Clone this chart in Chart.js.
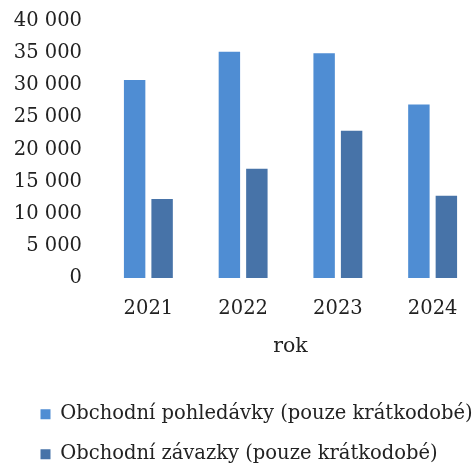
<!DOCTYPE html>
<html>
<head>
<meta charset="utf-8">
<script src="https://cdn.jsdelivr.net/npm/chart.js@4/dist/chart.umd.min.js"></script>
<style>
  html, body { margin: 0; padding: 0; background: #fff; overflow: hidden; }
  #wrap { width: 473px; height: 464px; overflow: hidden; }
  #box { width: 487px; height: 474px; position: relative; }
</style>
</head>
<body>
<div id="wrap"><div id="box"><canvas id="c"></canvas></div></div>
<script>
  const years = ['2021', '2022', '2023', '2024'];
  const pohledavky = [30800, 35200, 35000, 27000];
  const zavazky = [12300, 17000, 22900, 12800];
  const seriesNames = ['Obchodní pohledávky (pouze krátkodobé)', 'Obchodní závazky (pouze krátkodobé)'];
  const axisTitle = 'rok';

  const serif = 'DejaVu Serif';
  const fmt = v => String(v).replace(/\B(?=(\d{3})+(?!\d))/g, ' ');

  // push the legend right a bit, without moving the axis labels
  const legendShift = {
    id: 'legendShift',
    afterLayout(chart) {
      const lg = chart.legend;
      if (lg) { lg.left += 20; lg.right += 20; }
    }
  };

  new Chart(document.getElementById('c'), {
    type: 'bar',
    data: {
      labels: years,
      datasets: [{
        label: seriesNames[0],
        data: pohledavky,
        backgroundColor: '#4f8dd3',
        categoryPercentage: 0.58,
        barPercentage: 0.78,
      }, {
        label: seriesNames[1],
        data: zavazky,
        backgroundColor: '#4773a8',
        categoryPercentage: 0.58,
        barPercentage: 0.78,
      }]
    },
    plugins: [legendShift],
    options: {
      responsive: true,
      maintainAspectRatio: false,
      animation: false,
      layout: { padding: { left: 0, right: 7, top: 21, bottom: 0 } },
      plugins: {
        tooltip: { enabled: false },
        legend: {
          position: 'bottom',
          align: 'start',
          labels: {
            color: '#222',
            font: { family: serif, size: 19.5 },
            boxWidth: 10,
            boxHeight: 10,
            padding: 20.5,
          }
        }
      },
      scales: {
        x: {
          grid: { display: false, drawTicks: true, tickLength: 19 },
          border: { display: false },
          ticks: { color: '#222', font: { family: serif, size: 19.5 }, padding: 0 },
          title: { display: true, text: axisTitle, color: '#222', font: { family: serif, size: 20.5 }, padding: { top: 14, bottom: 25 } }
        },
        y: {
          min: 0,
          max: 40000,
          grid: { display: false, drawTicks: true, tickLength: 19 },
          border: { display: false },
          ticks: { stepSize: 5000, color: '#222', font: { family: serif, size: 19.5 }, padding: 0, callback: v => fmt(v) },
          afterFit: scale => { scale.width = 101; }
        }
      }
    }
  });
</script>
</body>
</html>
